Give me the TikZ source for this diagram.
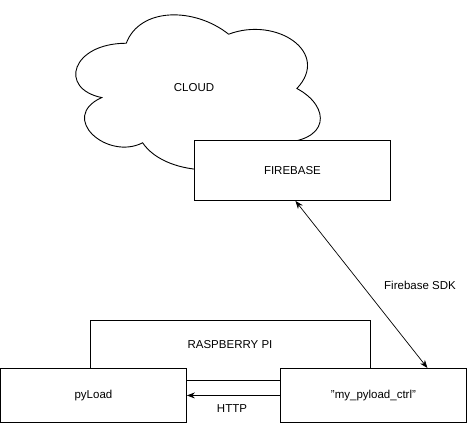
\documentclass[tikz,border=0pt]{standalone}
\usepackage{fontspec}
\setmainfont{Liberation Sans}
\usetikzlibrary{arrows.meta,positioning}
\begin{document}
\begin{tikzpicture}[x=1pt,y=-1pt,
    every node/.style={font=\fontsize{11.5}{13}\selectfont},
    box/.style={draw,fill=white,line width=0.9pt,inner sep=0pt,anchor=north west},
    tip/.tip={Stealth[length=8pt,width=6pt]}]
    \useasboundingbox (0,0) rectangle (472,424);

    % cloud
    \begin{scope}[shift={(58,-2)},x=273pt,y=-181pt]
      \draw[line width=0.9pt] (0.25,0.25) .. controls (0.05,0.25) and (0,0.5) .. (0.16,0.55)
        .. controls (0,0.66) and (0.18,0.9) .. (0.31,0.8)
        .. controls (0.4,1) and (0.7,1) .. (0.8,0.8)
        .. controls (1,0.8) and (1,0.6) .. (0.875,0.5)
        .. controls (1,0.3) and (0.8,0.1) .. (0.625,0.2)
        .. controls (0.5,0.05) and (0.3,0.05) .. (0.25,0.25) -- cycle;
    \end{scope}
    \node (cloud) at (194,88) {CLOUD};

    % firebase
    \node[box,minimum width=196pt,minimum height=60pt] (firebase) at (194,140) {FIREBASE};

    % raspberry pi
    \node[box,minimum width=280pt,minimum height=60pt] (rpi) at (90,320) {};
    \node (rpitext) at (230,345) {RASPBERRY PI};

    %% pyload + controller
    \node[box,minimum width=186pt,minimum height=54pt] (pyload) at (0,368) {pyLoad};
    \node[box,minimum width=186pt,minimum height=54pt] (ctrl) at (280,368) {\symbol{34}my\_pyload\_ctrl\symbol{34}};

    % connections
    \draw[line width=0.7pt,tip-tip] ([xshift=3pt]firebase.south) -- ([xshift=54pt]ctrl.north);
    \node (sdk) at (420,285) {Firebase SDK};
    \draw[line width=0.8pt,-tip] (ctrl.west) -- (pyload.east);
    \node (http) at (232,409) {HTTP};
\end{tikzpicture}
\end{document}
